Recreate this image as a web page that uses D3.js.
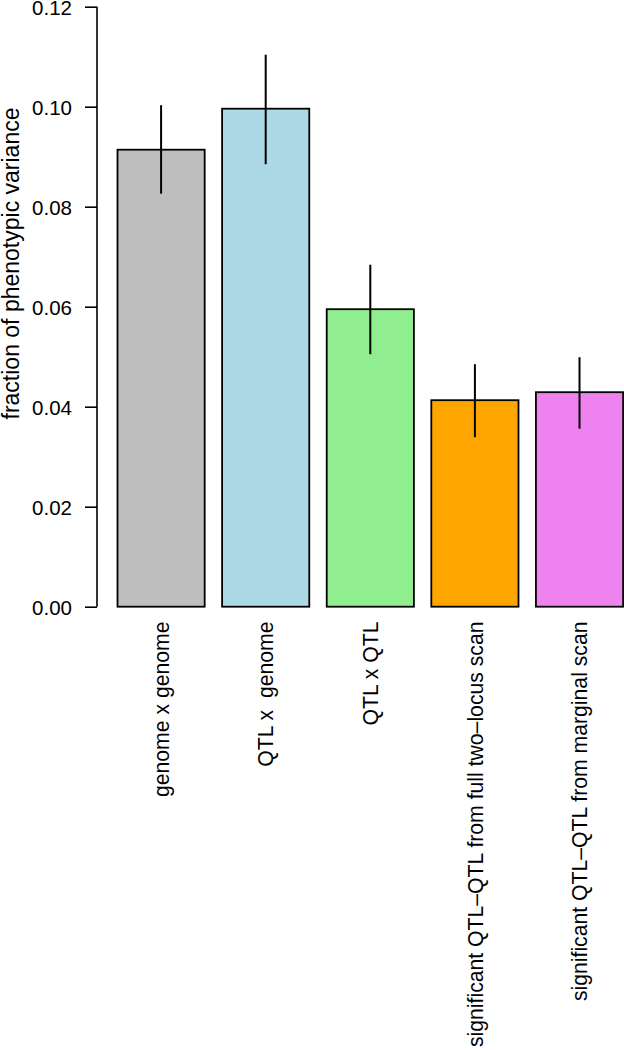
<!DOCTYPE html>
<html>
<head>
<meta charset="utf-8">
<script src="https://cdn.jsdelivr.net/npm/d3@7"></script>
<style>
  html, body { margin: 0; padding: 0; background: #fff; }
  svg { display: block; }
  text { font-family: "Liberation Sans", Arial, Helvetica, sans-serif; fill: #000; white-space: pre; }
</style>
</head>
<body>
<script>
const categories = [
  "genome x genome",
  "QTL x  genome",
  "QTL x QTL",
  "significant QTL\u2013QTL from full two\u2013locus scan",
  "significant QTL\u2013QTL from marginal scan"
];
const values = [0.0914, 0.0996, 0.0595, 0.0413, 0.0429];
const lower  = [0.0826, 0.0885, 0.0505, 0.0339, 0.0356];
const upper  = [0.1003, 0.1104, 0.0684, 0.0485, 0.0499];
const colors = ["#BEBEBE", "#ADD8E6", "#90EE90", "#FFA500", "#EE82EE"];
const yTicks = [0, 0.02, 0.04, 0.06, 0.08, 0.10, 0.12];
const yLabel = "fraction of phenotypic variance";

const W = 624, H = 1050;
const svg = d3.select("body").append("svg").attr("width", W).attr("height", H);
svg.append("rect").attr("width", W).attr("height", H).attr("fill", "#fff");

const y = d3.scaleLinear().domain([0, 0.12]).range([606.7, 6.7]);
const x = d3.scaleBand().domain(categories).range([117.5, 623.1])
  .paddingInner(0.2 / 1.2).paddingOuter(0);

const data = categories.map((c, i) => ({c, v: values[i], lo: lower[i], hi: upper[i], col: colors[i]}));

// bars
svg.append("g").selectAll("rect").data(data).join("rect")
  .attr("x", d => x(d.c))
  .attr("y", d => y(d.v))
  .attr("width", x.bandwidth())
  .attr("height", d => y(0) - y(d.v))
  .attr("fill", d => d.col)
  .attr("stroke", "#000")
  .attr("stroke-width", 1.8);

// error bars
svg.append("g").selectAll("line").data(data).join("line")
  .attr("x1", d => x(d.c) + x.bandwidth() / 2)
  .attr("x2", d => x(d.c) + x.bandwidth() / 2)
  .attr("y1", d => y(d.lo))
  .attr("y2", d => y(d.hi))
  .attr("stroke", "#000")
  .attr("stroke-width", 2);

// y axis
const yAxis = d3.axisLeft(y).tickValues(yTicks).tickFormat(d3.format(".2f"))
  .tickSizeOuter(0).tickSize(12).tickPadding(13);
const gy = svg.append("g").attr("transform", "translate(97,0)").call(yAxis);
gy.select(".domain").remove();
gy.append("line").attr("x1", 0).attr("x2", 0).attr("y1", y(0)).attr("y2", y(0.12))
  .attr("stroke", "#000").attr("stroke-width", 1.6);
gy.selectAll(".tick line").attr("stroke", "#000").attr("stroke-width", 1.6);
gy.selectAll(".tick text").attr("font-size", 20.5).attr("dy", "0.4em")
  .attr("font-family", "Liberation Sans, Arial, sans-serif").attr("fill", "#000");

// x labels (rotated)
svg.append("g").selectAll("text").data(data).join("text")
  .attr("transform", d => `translate(${x(d.c) + x.bandwidth() / 2},621.5) rotate(-90)`)
  .attr("text-anchor", "end")
  .attr("dy", "0.36em")
  .attr("font-size", 21.2)
  .text(d => d.c);

// y label
svg.append("text")
  .attr("transform", `translate(19.2,${(100 + 427) / 2}) rotate(-90)`)
  .attr("text-anchor", "middle")
  .attr("font-size", 23)
  .text(yLabel);
</script>
</body>
</html>
